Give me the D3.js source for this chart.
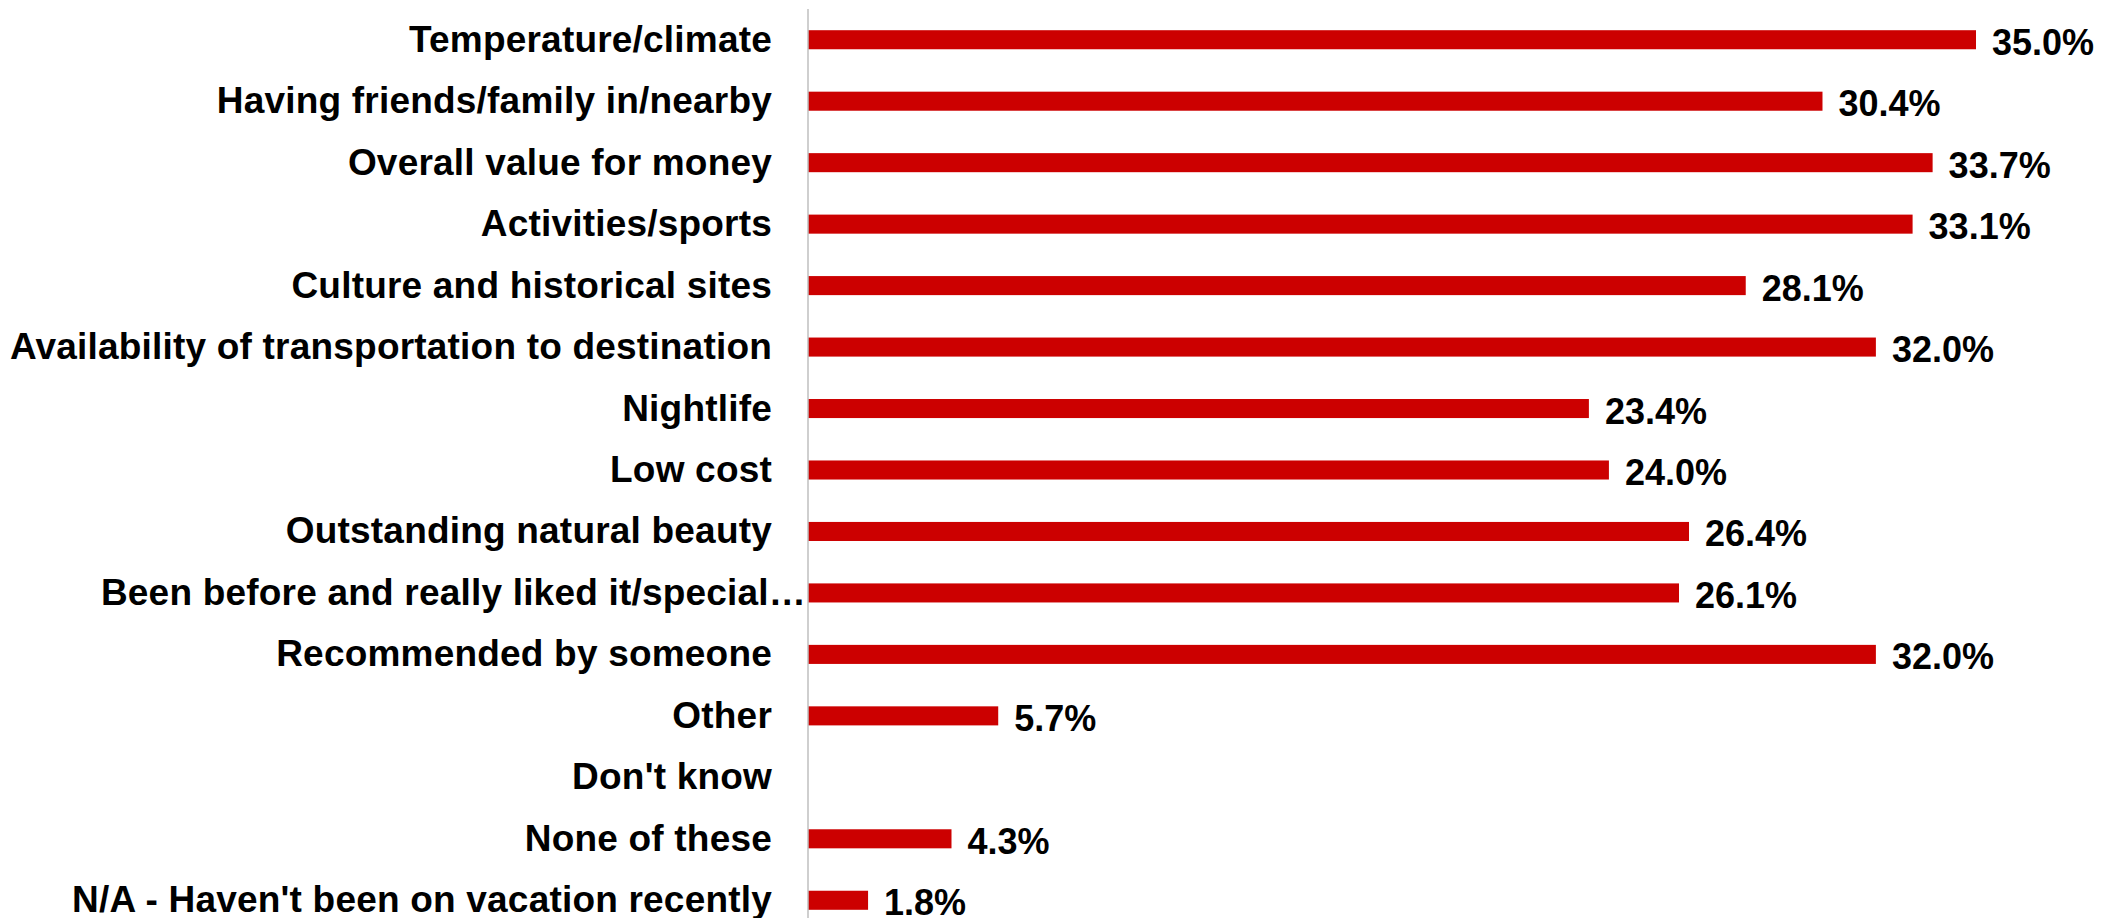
<!DOCTYPE html>
<html>
<head>
<meta charset="utf-8">
<script src="https://cdn.jsdelivr.net/npm/d3@7"></script>
<style>
  html, body { margin: 0; padding: 0; background: #ffffff; }
  svg { display: block; }
</style>
</head>
<body>
<svg id="chart" width="2103" height="918"></svg>
<script>
// Reasons for choosing a vacation destination (share of respondents, %)
const categories = [
  "Temperature/climate",
  "Having friends/family in/nearby",
  "Overall value for money",
  "Activities/sports",
  "Culture and historical sites",
  "Availability of transportation to destination",
  "Nightlife",
  "Low cost",
  "Outstanding natural beauty",
  "Been before and really liked it/special\u2026",
  "Recommended by someone",
  "Other",
  "Don't know",
  "None of these",
  "N/A - Haven't been on vacation recently"
];
const values = [35.0, 30.4, 33.7, 33.1, 28.1, 32.0, 23.4, 24.0, 26.4, 26.1, 32.0, 5.7, null, 4.3, 1.8];
const valueLabels = ["35.0%", "30.4%", "33.7%", "33.1%", "28.1%", "32.0%", "23.4%", "24.0%",
                     "26.4%", "26.1%", "32.0%", "5.7%", "", "4.3%", "1.8%"];

const rows = categories.map((c, i) => ({ cat: c, value: values[i], label: valueLabels[i] }));

const svg = d3.select("#chart");
const axisX = 808;

const x = d3.scaleLinear().domain([0, 35]).range([axisX, 1976]);
const y = d3.scaleBand()
  .domain(categories)
  .range([9, 931])
  .paddingInner(0.69)
  .paddingOuter(0.345);

const FONT = "'Liberation Sans', Arial, sans-serif";

// Bars
svg.append("g")
  .selectAll("rect")
  .data(rows.filter(d => d.value != null))
  .join("rect")
  .attr("x", x(0))
  .attr("y", d => y(d.cat))
  .attr("width", d => x(d.value) - x(0))
  .attr("height", y.bandwidth())
  .attr("fill", "#CC0000");

// Category axis line
svg.append("line")
  .attr("x1", axisX).attr("x2", axisX)
  .attr("y1", y.range()[0]).attr("y2", y.range()[1])
  .attr("stroke", "#BFBFBF")
  .attr("stroke-width", 1.5);

// Category labels (truncated labels run up to the axis line)
svg.append("g")
  .selectAll("text")
  .data(rows)
  .join("text")
  .attr("x", d => d.cat.endsWith("\u2026") ? axisX - 2 : axisX - 36)
  .attr("y", d => y(d.cat) + y.bandwidth() / 2 + 12)
  .attr("text-anchor", "end")
  .attr("font-family", FONT)
  .attr("font-weight", "bold")
  .attr("font-size", 37)
  .attr("letter-spacing", 0.2)
  .attr("fill", "#000000")
  .text(d => d.cat);

// Value labels
svg.append("g")
  .selectAll("text")
  .data(rows.filter(d => d.value != null))
  .join("text")
  .attr("x", d => x(d.value) + 16)
  .attr("y", d => y(d.cat) + y.bandwidth() / 2 + 15)
  .attr("text-anchor", "start")
  .attr("font-family", FONT)
  .attr("font-weight", "bold")
  .attr("font-size", 36)
  .attr("fill", "#000000")
  .text(d => d.label);
</script>
</body>
</html>
